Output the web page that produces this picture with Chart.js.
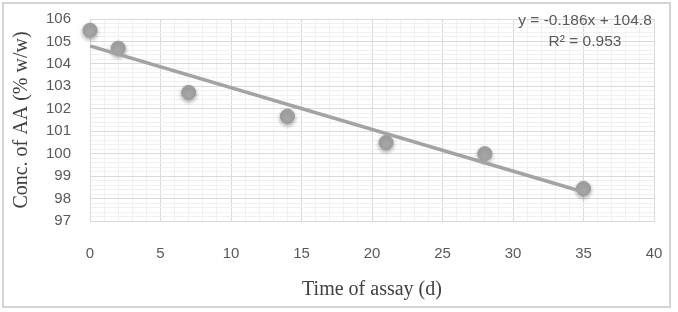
<!DOCTYPE html>
<html>
<head>
<meta charset="utf-8">
<script src="https://cdn.jsdelivr.net/npm/chart.js@4.4.0/dist/chart.umd.min.js"></script>
<style>
  html, body { margin: 0; padding: 0; background: #fff; }
  #wrap { width: 678px; height: 312px; position: relative; }
</style>
</head>
<body>
<div id="wrap"><canvas id="assayChart" width="678" height="312"></canvas></div>
<script>
// data
const days = [0, 2, 7, 14, 21, 28, 35];
const concAA = [105.5, 104.7, 102.73, 101.67, 100.5, 100.0, 98.45];
const trendSlope = -0.186;
const trendIntercept = 104.8;
const equationLines = ['y = -0.186x + 104.8', 'R\u00B2 = 0.953'];
const xAxisTitle = 'Time of assay (d)';
const yAxisTitle = 'Conc. of AA (% w/w)';

const majorGrid = '#d9d9d9';
const minorGrid = '#f0f0f0';
const tickColor = '#595959';

// trendline spans the data range
const xMin = Math.min(...days), xMax = Math.max(...days);
const trendPoints = [xMin, xMax].map(x => ({ x: x, y: trendSlope * x + trendIntercept }));
const points = days.map((d, i) => ({ x: d, y: concAA[i] }));

const isWhole = (v, step) => Math.abs(v / step - Math.round(v / step)) < 1e-6;

// soft shadow under the markers, plus frame and equation text
const decorPlugin = {
  id: 'decor',
  beforeDatasetDraw(chart, args) {
    if (args.index === 1) {
      const ctx = chart.ctx;
      ctx.save();
      ctx.shadowColor = 'rgba(0,0,0,0.35)';
      ctx.shadowBlur = 4;
      ctx.shadowOffsetY = 2;
    }
  },
  afterDatasetDraw(chart, args) {
    if (args.index === 1) chart.ctx.restore();
  },
  afterDraw(chart) {
    const ctx = chart.ctx;
    ctx.save();
    ctx.strokeStyle = '#d4d4d4';
    ctx.lineWidth = 2;
    ctx.strokeRect(3, 3, 667, 304);
    ctx.fillStyle = tickColor;
    ctx.font = '15.5px "Liberation Sans", Arial, sans-serif';
    ctx.textAlign = 'center';
    ctx.textBaseline = 'middle';
    ctx.fillText(equationLines[0], 585, 21);
    ctx.fillText(equationLines[1], 585, 42);
    ctx.restore();
  }
};

new Chart(document.getElementById('assayChart'), {
  type: 'scatter',
  data: {
    datasets: [
      {
        type: 'line',
        data: trendPoints,
        borderColor: '#a3a3a3',
        borderWidth: 3.5,
        pointRadius: 0,
        fill: false
      },
      {
        data: points,
        clip: false,
        backgroundColor: '#a6a6a6',
        borderColor: '#9a9a9a',
        borderWidth: 1,
        pointRadius: 7,
        pointHoverRadius: 7
      }
    ]
  },
  options: {
    responsive: false,
    animation: false,
    layout: { padding: { left: 0, top: 19, right: 24, bottom: 0 } },
    plugins: {
      legend: { display: false },
      tooltip: { enabled: false }
    },
    scales: {
      x: {
        type: 'linear',
        min: 0,
        max: 40,
        afterFit(scale) { scale.height = 91; },
        ticks: {
          stepSize: 1,
          autoSkip: false,
          maxRotation: 0,
          padding: 1,
          color: tickColor,
          font: { family: '"Liberation Sans", Arial, sans-serif', size: 15 },
          callback: v => (isWhole(v, 5) ? v : '')
        },
        // invisible tick marks push the labels down without widening the layout padding
        grid: {
          drawTicks: true,
          tickLength: 23,
          tickColor: 'rgba(0,0,0,0)',
          color: c => (isWhole(c.tick.value, 5) ? majorGrid : minorGrid)
        },
        border: { color: majorGrid },
        title: {
          display: true,
          text: xAxisTitle,
          color: '#404040',
          padding: { top: 0, bottom: 10 },
          font: { family: '"Liberation Serif", "Times New Roman", serif', size: 20 }
        }
      },
      y: {
        min: 97,
        max: 106,
        afterFit(scale) { scale.width = 90; },
        ticks: {
          stepSize: 0.2,
          autoSkip: false,
          padding: 1,
          color: tickColor,
          font: { family: '"Liberation Sans", Arial, sans-serif', size: 15 },
          callback: v => (isWhole(v, 1) ? Math.round(v) : '')
        },
        grid: {
          drawTicks: true,
          tickLength: 18,
          tickColor: 'rgba(0,0,0,0)',
          color: c => (isWhole(c.tick.value, 1) ? majorGrid : minorGrid)
        },
        border: { color: majorGrid },
        title: {
          display: true,
          text: yAxisTitle,
          color: '#404040',
          padding: { top: 10, bottom: 0 },
          font: { family: '"Liberation Serif", "Times New Roman", serif', size: 20 }
        }
      }
    }
  },
  plugins: [decorPlugin]
});
</script>
</body>
</html>
